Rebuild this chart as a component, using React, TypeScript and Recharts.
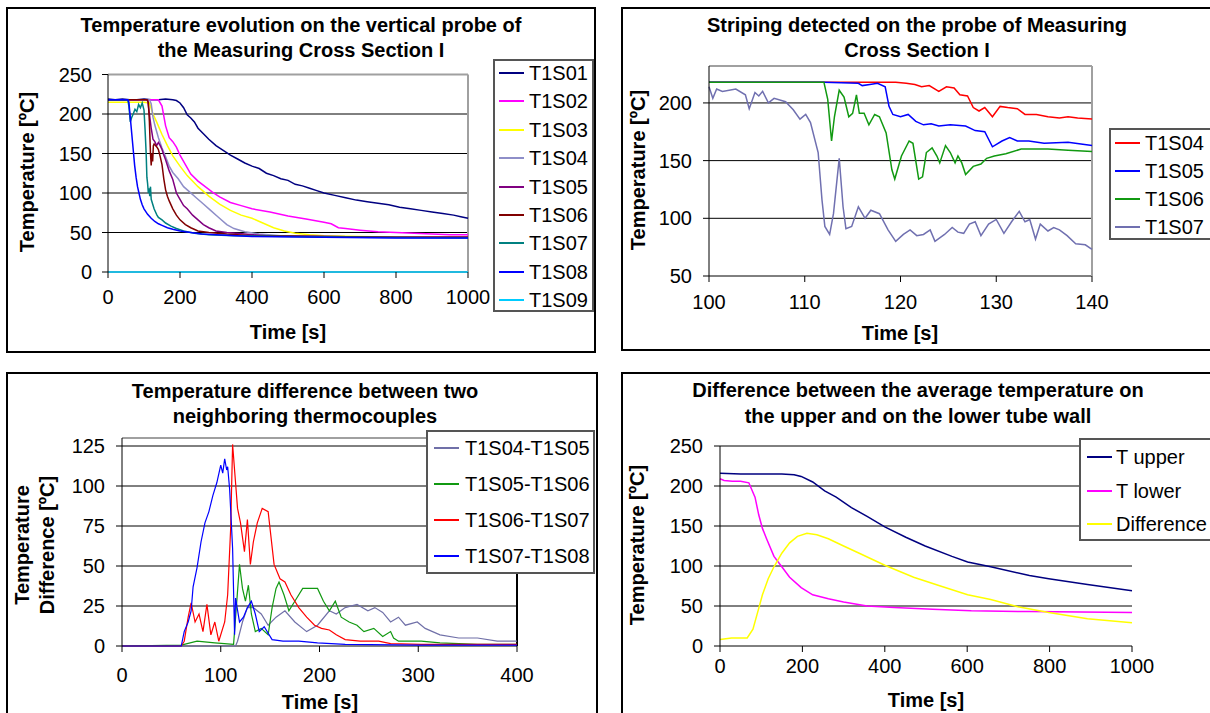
import React from "react";
import { LineChart, Line, XAxis, YAxis, CartesianGrid, Legend, ReferenceLine } from "recharts";

const FONT = '"Liberation Sans", Arial, Helvetica, sans-serif';

// ---------- panel 1: vertical probe, 0..1000 s ----------
const p1Ticks = { x: [0, 200, 400, 600, 800, 1000], y: [0, 50, 100, 150, 200, 250] };

const p1S01t = [0, 20, 40, 60, 80, 100, 120, 140, 160, 180, 190, 200, 210, 220, 230, 240, 250, 265, 280, 300, 320, 340, 360, 380, 400, 420, 440, 460, 480, 500, 520, 540, 560, 580, 600, 630, 660, 690, 720, 750, 780, 810, 840, 870, 900, 930, 960, 980, 1000];
const p1S01v = [219, 218, 219, 218, 218, 219, 218, 218, 219, 218, 217, 214, 208, 199, 195, 190, 182, 175, 168, 160, 154, 148, 143, 138, 134, 131, 125, 122, 118, 116, 111, 109, 106, 103, 100, 97, 94, 91, 89, 87, 85, 82, 80, 78, 76, 74, 72, 70, 68];

const p1S02t = [0, 50, 100, 140, 150, 160, 170, 180, 190, 200, 215, 230, 250, 270, 290, 310, 340, 370, 400, 450, 500, 550, 600, 620, 640, 660, 700, 750, 800, 850, 900, 950, 1000];
const p1S02v = [218, 218, 218, 218, 210, 185, 170, 165, 158, 148, 136, 124, 115, 108, 101, 95, 88, 84, 80, 76, 71, 67, 63, 61, 56, 55, 53, 51, 50, 49, 48, 47, 47];

const p1S03t = [0, 50, 100, 115, 125, 135, 150, 165, 180, 200, 220, 250, 280, 310, 340, 370, 400, 430, 460, 490, 520, 560, 600, 700, 800, 900, 1000];
const p1S03v = [215, 215, 215, 214, 200, 190, 174, 160, 147, 134, 122, 108, 96, 86, 78, 72, 68, 62, 56, 52, 49, 47, 46, 45, 44, 44, 44];

const p1S04t = [0, 50, 100, 115, 120, 125, 130, 140, 150, 160, 170, 180, 195, 210, 225, 245, 265, 285, 305, 330, 350, 380, 420, 480, 600, 800, 1000];
const p1S04v = [218, 218, 218, 218, 213, 196, 186, 170, 157, 146, 134, 126, 118, 108, 102, 94, 86, 78, 70, 60, 55, 51, 48, 46, 45, 44, 44];

const p1S05t = [0, 50, 100, 110, 115, 120, 125, 130, 135, 140, 145, 150, 155, 160, 170, 180, 190, 200, 210, 220, 235, 250, 265, 280, 300, 330, 380, 440, 600, 800, 1000];
const p1S05v = [218, 218, 218, 218, 200, 182, 168, 165, 160, 164, 160, 155, 148, 142, 128, 117, 100, 92, 84, 80, 72, 66, 60, 56, 52, 50, 48, 46, 45, 44, 44];

const p1S06t = [0, 50, 100, 108, 112, 115, 118, 120, 122, 124, 126, 128, 132, 136, 140, 145, 150, 155, 160, 165, 170, 180, 190, 200, 215, 230, 250, 280, 330, 400, 600, 800, 1000];
const p1S06v = [218, 218, 218, 218, 215, 190, 150, 135, 150, 140, 160, 162, 160, 158, 155, 146, 136, 118, 104, 96, 90, 80, 72, 66, 60, 56, 52, 50, 48, 46, 45, 44, 44];

const p1S07t = [0, 30, 55, 58, 62, 66, 70, 75, 80, 85, 90, 95, 100, 103, 106, 108, 110, 112, 114, 116, 118, 120, 124, 128, 132, 136, 140, 150, 160, 175, 190, 210, 240, 280, 350, 500, 700, 1000];
const p1S07v = [218, 218, 218, 210, 190, 196, 200, 206, 203, 212, 208, 214, 205, 180, 150, 120, 112, 100, 106, 96, 108, 92, 86, 80, 76, 72, 69, 66, 62, 58, 55, 52, 49, 47, 46, 45, 44, 43];

const p1S08t = [0, 30, 55, 58, 62, 66, 70, 74, 78, 82, 86, 90, 95, 100, 110, 120, 130, 140, 150, 165, 180, 200, 230, 260, 300, 400, 600, 800, 1000];
const p1S08v = [218, 218, 218, 215, 195, 175, 155, 135, 120, 108, 100, 92, 85, 80, 73, 68, 64, 61, 59, 56, 54, 52, 50, 48, 47, 45, 44, 43, 43];

const p1S09t = [0, 1000];
const p1S09v = [0, 0];

// ---------- panel 2: striping, 100..140 s ----------
const p2Ticks = { x: [100, 110, 120, 130, 140], y: [50, 100, 150, 200] };

const p2S04t = [100, 110, 118, 119.5, 120.6, 121.5, 122.2, 123, 124, 124.8, 125.6, 126.2, 127, 127.6, 128.2, 128.8, 129.6, 130.4, 131.2, 132.2, 133, 134.2, 135.4, 136.6, 137.5, 138.5, 140];
const p2S04v = [218, 218, 218, 218, 217, 216, 214, 215, 210, 214, 213, 207, 206, 196, 193, 196, 188, 197, 196, 195, 190, 190, 188, 187, 188, 187, 186];

const p2S05t = [100, 112, 115.6, 116, 116.8, 117.6, 118.4, 118.8, 119.2, 120, 120.8, 121.6, 122.4, 123.2, 124, 125.2, 126.8, 127.8, 128.8, 129.6, 130.6, 131.4, 132.2, 133.4, 135, 137.5, 140];
const p2S05v = [218, 218, 217, 215, 216, 217, 214, 197, 190, 188, 190, 184, 181, 182, 180, 181, 180, 176, 175, 162, 167, 170, 167, 167, 165, 166, 163];

const p2S06t = [100, 112, 112.4, 112.8, 113.1, 113.6, 114.1, 114.6, 115, 115.4, 115.7, 116.2, 116.7, 117.3, 117.8, 118.5, 119.1, 119.4, 120.1, 120.9, 121.3, 121.9, 122.3, 122.7, 123.3, 123.8, 124.1, 124.7, 125.2, 125.7, 126, 126.4, 126.8, 127.6, 128.4, 129, 129.8, 131, 132.6, 135.4, 137.5, 140];
const p2S06v = [218, 218, 203, 167, 188, 211, 205, 188, 191, 207, 191, 191, 181, 190, 188, 174, 142, 134, 154, 167, 165, 134, 136, 157, 161, 154, 148, 163, 157, 148, 154, 148, 138, 145, 147, 152, 154, 156, 160, 160, 159, 158];

const p2S07t = [100, 100.4, 100.8, 101.4, 102.8, 103.8, 104.2, 104.8, 105.2, 105.6, 106.2, 106.8, 108, 108.8, 109.5, 110.1, 110.6, 111.4, 111.8, 112.1, 112.6, 113, 113.6, 114, 114.3, 114.9, 115.6, 116.3, 116.9, 117.8, 118.7, 119.5, 120.3, 121, 121.7, 122.4, 123.1, 123.6, 124.6, 125.4, 126, 126.6, 127.2, 127.8, 128.4, 129.2, 130, 130.8, 131.6, 132.4, 133, 133.5, 134.1, 134.6, 135.4, 136, 136.6, 137.4, 138.3, 139.3, 140];
const p2S07v = [214, 204, 212, 210, 212, 207, 195, 209, 206, 210, 200, 204, 201, 194, 186, 190, 183, 157, 116, 93, 86, 104, 152, 110, 91, 93, 110, 100, 107, 104, 90, 80, 86, 90, 85, 86, 90, 80, 86, 92, 88, 87, 95, 97, 85, 95, 99, 87, 97, 106, 97, 99, 82, 95, 89, 92, 90, 85, 78, 77, 73];

// ---------- panel 3: neighbouring differences, 0..400 s ----------
const p3Ticks = { x: [0, 100, 200, 300, 400], y: [0, 25, 50, 75, 100, 125] };

const p3D45t = [0, 115, 117, 122, 127, 133, 141, 148, 156, 165, 175, 187, 198, 210, 217, 226, 238, 249, 256, 264, 272, 280, 287, 299, 307, 322, 341, 360, 380, 400];
const p3D45v = [0, 0, 3, 15, 24, 24, 20, 13, 18, 22, 15, 9, 13, 22, 20, 24, 26, 22, 24, 21, 15, 18, 13, 15, 11, 7, 5, 5, 3, 3];

const p3D56t = [0, 60, 76, 94, 113, 116, 119, 122, 125, 128, 131, 135, 141, 148, 152, 156, 159, 164, 169, 175, 183, 191, 198, 204, 210, 216, 222, 230, 238, 245, 255, 264, 272, 275, 280, 303, 322, 360, 400];
const p3D56v = [0, 0.5, 3, 2, 1, 26, 51, 36, 28, 38, 20, 9, 11, 7, 24, 36, 40, 32, 22, 28, 36, 36, 36, 28, 22, 28, 18, 15, 13, 9, 11, 6, 9, 5, 3, 3, 2, 1, 1];

const p3D67t = [0, 60, 63, 67, 70, 74, 78, 82, 86, 90, 94, 98, 104, 107, 110, 112, 115, 117, 120, 124, 127, 130, 133, 137, 142, 148, 154, 160, 165, 171, 179, 187, 195, 202, 210, 217, 226, 241, 260, 272, 303, 400];
const p3D67v = [0, 0, 3, 18, 27, 15, 20, 9, 26, 7, 15, 3, 15, 32, 73, 126, 102, 86, 77, 59, 79, 51, 65, 77, 86, 84, 51, 42, 40, 32, 24, 18, 13, 11, 10, 7, 4, 3, 3, 1.5, 1, 1];

const p3D78t = [0, 60, 63, 67, 70, 72, 76, 80, 84, 88, 92, 96, 100, 102, 104, 106, 107, 109, 112, 114, 115, 119, 123, 127, 131, 135, 139, 144, 152, 163, 179, 198, 226, 300, 400];
const p3D78v = [0, 0, 9, 15, 22, 37, 49, 65, 77, 84, 94, 102, 113, 108, 117, 110, 112, 98, 61, 7, 30, 15, 18, 24, 28, 20, 9, 12, 4, 3, 3, 2, 1, 0.5, 0.5];

// ---------- panel 4: upper vs lower wall, 0..1000 s ----------
const p4Ticks = { x: [0, 200, 400, 600, 800, 1000], y: [0, 50, 100, 150, 200, 250] };

const p4Upt = [0, 50, 100, 150, 180, 197, 225, 254, 282, 319, 357, 400, 451, 498, 563, 601, 657, 751, 798, 892, 1000];
const p4Upv = [216, 215, 215, 215, 214, 212, 205, 194, 186, 173, 162, 149, 136, 125, 112, 105, 99, 88, 84, 77, 69];

const p4Lot = [0, 10, 30, 50, 70, 85, 94, 103, 113, 131, 150, 169, 197, 225, 263, 300, 357, 423, 516, 610, 751, 1000];
const p4Lov = [209, 207, 206, 206, 204, 186, 164, 147, 134, 112, 99, 86, 73, 64, 59, 55, 50, 48, 46, 44, 43, 42];

const p4Dft = [0, 28, 66, 80, 94, 103, 117, 131, 150, 169, 188, 211, 235, 263, 300, 338, 400, 470, 535, 601, 657, 723, 798, 892, 1000];
const p4Dfv = [8, 10, 10, 21, 47, 64, 84, 99, 116, 129, 137, 141, 139, 134, 125, 116, 101, 86, 75, 64, 58, 49, 42, 34, 29];

type Series = { name: string; color: string; t: number[]; v: number[] };

const toPoints = (t: number[], v: number[]) => t.map((x, i) => ({ t: x, v: v[i] }));

type Box = { left: number; top: number; width: number; height: number };

type PanelProps = {
  box: Box;
  plot: { left: number; top: number; right: number; bottom: number };
  xDomain: [number, number];
  yDomain: [number, number];
  ticks: { x: number[]; y: number[] };
  xTickGap: number;
  yTickGap: number;
  series: Series[];
  strokeWidth: number;
  title: string[];
  titleX: number;
  titleY: number[];
  yTitle: string[];
  yTitleX: number[];
  yTitleY: number;
  xTitleX: number;
  xTitleY: number;
  legend: Box & { first: number; step: number; lineX: number; textX: number };
  frameTop?: string;
  frameRight?: string;
};

function Txt({ x, y, text, bold, rotate }: { x: number; y: number; text: string; bold?: boolean; rotate?: boolean }) {
  return (
    <div
      style={{
        position: "absolute",
        left: x - 300,
        top: y - 12,
        width: 600,
        height: 24,
        lineHeight: "24px",
        textAlign: "center",
        fontFamily: FONT,
        fontSize: 20,
        fontWeight: bold ? 700 : 400,
        whiteSpace: "nowrap",
        color: "#000",
        transform: rotate ? "rotate(-90deg)" : undefined,
      }}
    >
      {text}
    </div>
  );
}

function LegendBox({ lg, series }: { lg: PanelProps["legend"]; series: Series[] }) {
  return (
    <div
      style={{
        position: "relative",
        width: lg.width,
        height: lg.height,
        border: "2px solid #555",
        boxSizing: "border-box",
        background: "#fff",
      }}
    >
      {series.map((s, i) => {
        const cy = lg.first - lg.top + i * lg.step - 2;
        return (
          <div key={s.name}>
            <div
              style={{
                position: "absolute",
                left: lg.lineX - lg.left - 2,
                top: cy - 1,
                width: 25,
                height: 2,
                background: s.color,
              }}
            />
            <div
              style={{
                position: "absolute",
                left: lg.textX - lg.left - 2,
                top: cy - 12,
                height: 24,
                lineHeight: "24px",
                fontFamily: FONT,
                fontSize: 20,
                color: "#000",
                whiteSpace: "nowrap",
              }}
            >
              {s.name}
            </div>
          </div>
        );
      })}
    </div>
  );
}

function Panel(p: PanelProps) {
  const { box, plot, legend: lg } = p;
  const tickStyle = { fill: "#000", fontSize: 20, fontFamily: FONT };
  return (
    <>
      <div
        style={{
          position: "absolute",
          left: box.left - 1,
          top: box.top - 1,
          width: box.width + 2,
          height: box.height + 2,
          border: "2px solid #000",
          boxSizing: "border-box",
        }}
      />
      <div style={{ position: "absolute", left: box.left, top: box.top }}>
        <LineChart
          width={box.width}
          height={box.height}
          margin={{ top: plot.top - box.top, right: box.left + box.width - plot.right, bottom: 0, left: 0 }}
        >
          {/* the grid's bottom line stands in for the x axis line so data at the minimum stays visible */}
          <CartesianGrid vertical={false} stroke="#000" strokeWidth={1} />
          <XAxis
            type="number"
            dataKey="t"
            domain={p.xDomain}
            ticks={p.ticks.x}
            interval={0}
            height={box.top + box.height - plot.bottom}
            tickSize={6}
            tickMargin={p.xTickGap}
            axisLine={false}
            tickLine={{ stroke: "#000" }}
            tick={tickStyle}
          />
          <YAxis
            type="number"
            domain={p.yDomain}
            ticks={p.ticks.y}
            interval={0}
            width={plot.left - box.left}
            tickSize={6}
            tickMargin={p.yTickGap}
            axisLine={{ stroke: "#000" }}
            tickLine={{ stroke: "#000" }}
            tick={tickStyle}
          />
          {p.frameTop && <ReferenceLine y={p.yDomain[1]} stroke={p.frameTop} strokeWidth={2} />}
          {p.frameRight && <ReferenceLine x={p.xDomain[1]} stroke={p.frameRight} strokeWidth={2} />}
          {p.series.map((s) => (
            <Line
              key={s.name}
              data={toPoints(s.t, s.v)}
              dataKey="v"
              name={s.name}
              type="linear"
              stroke={s.color}
              strokeWidth={p.strokeWidth}
              dot={false}
              activeDot={false}
              isAnimationActive={false}
            />
          ))}
          <Legend
            layout="horizontal"
            verticalAlign="middle"
            align="center"
            wrapperStyle={{
              left: lg.left - box.left,
              top: lg.top - box.top,
              width: lg.width,
              height: lg.height,
              margin: 0,
            }}
            content={() => <LegendBox lg={lg} series={p.series} />}
          />
        </LineChart>
      </div>
      {p.title.map((line, i) => (
        <Txt key={line} x={p.titleX} y={p.titleY[i]} text={line} bold />
      ))}
      {p.yTitle.map((line, i) => (
        <Txt key={line} x={p.yTitleX[i]} y={p.yTitleY} text={line} bold rotate />
      ))}
      <Txt x={p.xTitleX} y={p.xTitleY} text="Time [s]" bold />
    </>
  );
}

export default function App() {
  const s1: Series[] = [
    { name: "T1S01", color: "#000080", t: p1S01t, v: p1S01v },
    { name: "T1S02", color: "#FF00FF", t: p1S02t, v: p1S02v },
    { name: "T1S03", color: "#FFFF00", t: p1S03t, v: p1S03v },
    { name: "T1S04", color: "#8E8EC8", t: p1S04t, v: p1S04v },
    { name: "T1S05", color: "#800080", t: p1S05t, v: p1S05v },
    { name: "T1S06", color: "#800000", t: p1S06t, v: p1S06v },
    { name: "T1S07", color: "#008080", t: p1S07t, v: p1S07v },
    { name: "T1S08", color: "#0000FF", t: p1S08t, v: p1S08v },
    { name: "T1S09", color: "#00CCFF", t: p1S09t, v: p1S09v },
  ];
  const s2: Series[] = [
    { name: "T1S04", color: "#FF0000", t: p2S04t, v: p2S04v },
    { name: "T1S05", color: "#0000FF", t: p2S05t, v: p2S05v },
    { name: "T1S06", color: "#119911", t: p2S06t, v: p2S06v },
    { name: "T1S07", color: "#7070B0", t: p2S07t, v: p2S07v },
  ];
  const s3: Series[] = [
    { name: "T1S04-T1S05", color: "#7070A8", t: p3D45t, v: p3D45v },
    { name: "T1S05-T1S06", color: "#119911", t: p3D56t, v: p3D56v },
    { name: "T1S06-T1S07", color: "#FF0000", t: p3D67t, v: p3D67v },
    { name: "T1S07-T1S08", color: "#0000FF", t: p3D78t, v: p3D78v },
  ];
  const s4: Series[] = [
    { name: "T upper", color: "#000080", t: p4Upt, v: p4Upv },
    { name: "T lower", color: "#FF00FF", t: p4Lot, v: p4Lov },
    { name: "Difference", color: "#FFFF00", t: p4Dft, v: p4Dfv },
  ];

  return (
    <div style={{ position: "absolute", left: 0, top: 0, width: 1210, height: 713, overflow: "hidden", background: "#fff" }}>
      <Panel
        box={{ left: 7, top: 8, width: 588, height: 344 }}
        plot={{ left: 108, top: 74.5, right: 468, bottom: 272 }}
        xDomain={[0, 1000]}
        yDomain={[0, 250]}
        ticks={p1Ticks}
        xTickGap={12}
        yTickGap={10}
        series={s1}
        strokeWidth={1.5}
        title={["Temperature evolution on the vertical probe of", "the Measuring Cross Section I"]}
        titleX={301}
        titleY={[25, 50]}
        yTitle={["Temperature [ºC]"]}
        yTitleX={[27]}
        yTitleY={172}
        xTitleX={288}
        xTitleY={332}
        legend={{ left: 493, top: 59, width: 101, height: 253, first: 73, step: 28.4, lineX: 499, textX: 529 }}
        frameTop="#A0A0A0"
        frameRight="#A0A0A0"
      />
      <Panel
        box={{ left: 622, top: 8, width: 600, height: 342 }}
        plot={{ left: 709, top: 66, right: 1092, bottom: 276 }}
        xDomain={[100, 140]}
        yDomain={[50, 232]}
        ticks={p2Ticks}
        xTickGap={13}
        yTickGap={11}
        series={s2}
        strokeWidth={1.5}
        title={["Striping detected on the probe of Measuring", "Cross Section I"]}
        titleX={917}
        titleY={[25, 50]}
        yTitle={["Temperature [ºC]"]}
        yTitleX={[638]}
        yTitleY={170}
        xTitleX={900}
        xTitleY={333}
        legend={{ left: 1109, top: 128, width: 130, height: 112, first: 143, step: 28, lineX: 1115, textX: 1145 }}
        frameTop="#A0A0A0"
        frameRight="#A0A0A0"
      />
      <Panel
        box={{ left: 7, top: 373, width: 590, height: 345 }}
        plot={{ left: 122, top: 438, right: 517, bottom: 646 }}
        xDomain={[0, 400]}
        yDomain={[0, 130]}
        ticks={p3Ticks}
        xTickGap={16}
        yTickGap={11}
        series={s3}
        strokeWidth={1.2}
        title={["Temperature difference between two", "neighboring thermocouples"]}
        titleX={305}
        titleY={[391, 416]}
        yTitle={["Temperature", "Difference [ºC]"]}
        yTitleX={[22, 47]}
        yTitleY={545}
        xTitleX={320}
        xTitleY={702}
        legend={{ left: 426, top: 430, width: 169, height: 144, first: 448, step: 36, lineX: 434, textX: 465 }}
        frameTop="#A0A0A0"
        frameRight="#000"
      />
      <Panel
        box={{ left: 622, top: 373, width: 600, height: 345 }}
        plot={{ left: 720, top: 446, right: 1132, bottom: 646 }}
        xDomain={[0, 1000]}
        yDomain={[0, 250]}
        ticks={p4Ticks}
        xTickGap={7}
        yTickGap={11}
        series={s4}
        strokeWidth={1.5}
        title={["Difference between the average temperature on", "the upper and on the lower tube wall"]}
        titleX={918}
        titleY={[390, 416]}
        yTitle={["Temperature [ºC]"]}
        yTitleX={[637]}
        yTitleY={545}
        xTitleX={926}
        xTitleY={700}
        legend={{ left: 1079, top: 438, width: 150, height: 103, first: 457, step: 33.5, lineX: 1087, textX: 1116 }}
      />
    </div>
  );
}
